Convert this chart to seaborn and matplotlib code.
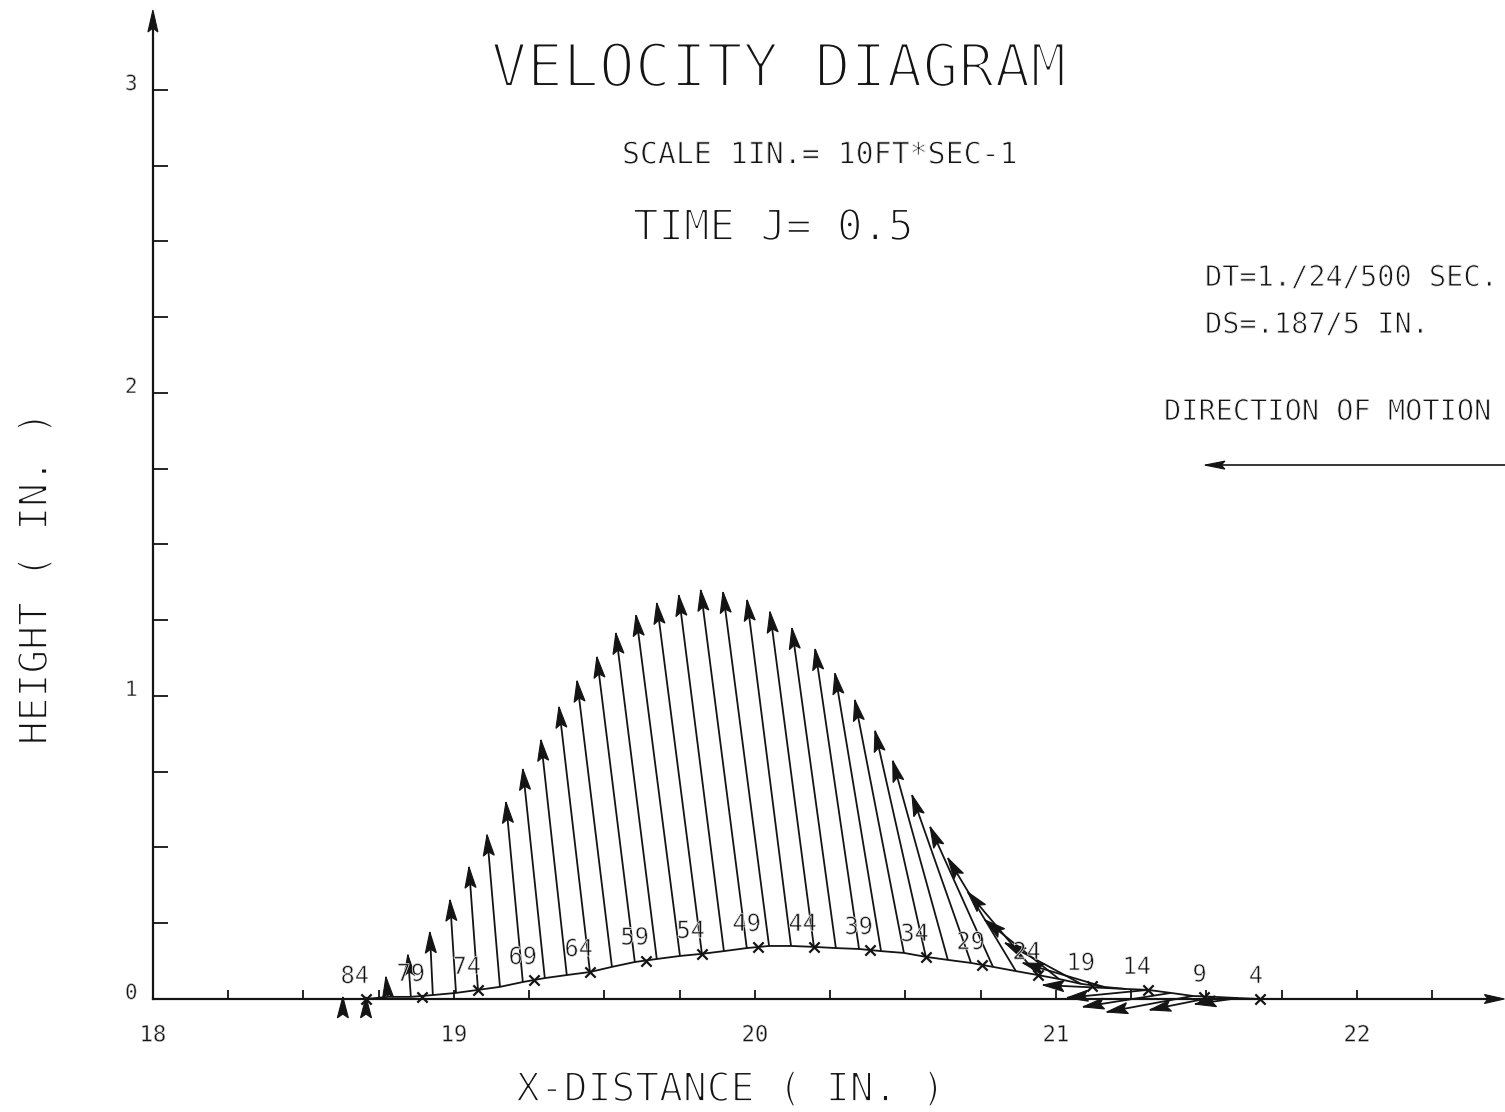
import numpy as np
import pandas as pd
import matplotlib
matplotlib.use("Agg")
import matplotlib.pyplot as plt
from matplotlib import patheffects as pe
from matplotlib.collections import LineCollection
from matplotlib.ticker import FixedLocator, FixedFormatter
import seaborn as sns

# ---------------------------------------------------------------------------
# Surface particles carrying a velocity vector (every second particle), in.
point_no = [86, 84, 82, 80, 78, 76, 74, 72, 70, 68,
            66, 64, 62, 60, 58, 56, 54, 52, 50, 48,
            46, 44, 42, 40, 38, 36, 34, 32, 30, 28,
            26, 24, 22, 20, 18, 16, 14, 12, 10, 8,
            6, 4, 2]
surf_x = [18.631, 18.708, 18.781, 18.857, 18.930, 19.007, 19.080, 19.153, 19.229, 19.302,
          19.375, 19.452, 19.525, 19.601, 19.674, 19.751, 19.824, 19.897, 19.973, 20.047,
          20.120, 20.196, 20.269, 20.346, 20.419, 20.495, 20.568, 20.641, 20.718, 20.791,
          20.867, 20.940, 21.010, 21.083, 21.159, 21.233, 21.306, 21.382, 21.455, 21.528,
          21.605, 21.678, 21.751]
surf_y = [0.000, 0.000, 0.007, 0.007, 0.013, 0.020, 0.030, 0.040, 0.056, 0.069,
          0.079, 0.089, 0.106, 0.122, 0.132, 0.142, 0.149, 0.158, 0.168, 0.175,
          0.175, 0.172, 0.168, 0.165, 0.158, 0.152, 0.139, 0.129, 0.119, 0.106,
          0.092, 0.079, 0.066, 0.050, 0.040, 0.033, 0.030, 0.020, 0.010, 0.007,
          0.003, 0.000, 0.000]
# particle velocity components, ft/sec
vel_u = [0.00, 0.00, -0.07, -0.10, -0.10, -0.20, -0.30, -0.43, -0.56, -0.73,
         -0.86, -1.03, -1.16, -1.26, -1.36, -1.46, -1.50, -1.50, -1.53, -1.53,
         -1.46, -1.46, -1.46, -1.46, -1.53, -1.63, -1.69, -1.83, -1.96, -2.09,
         -2.26, -2.33, -2.46, -2.52, -2.69, -2.76, -2.69, -2.92, -2.86, -2.16,
         -1.43, 0.00, 0.00]
vel_v = [0.07, 0.07, 0.66, 1.39, 2.08, 3.07, 4.06, 5.02, 5.94, 6.90,
         7.76, 8.75, 9.44, 10.07, 10.76, 11.25, 11.58, 11.75, 11.82, 11.68,
         11.42, 11.06, 10.56, 9.90, 9.17, 8.35, 7.46, 6.57, 5.54, 4.62,
         3.73, 2.74, 1.95, 1.35, 0.79, 0.13, -0.26, -0.46, -0.53, -0.43,
         -0.20, 0.00, 0.00]
VEL_SCALE = 10.0   # 1 in. of arrow = 10 ft/sec

# Numbered particles
label_no = [84, 79, 74, 69, 64, 59, 54, 49, 44, 39, 34, 29, 24, 19, 14, 9, 4]
label_x = [18.708, 18.894, 19.080, 19.266, 19.452, 19.638, 19.824, 20.010, 20.196,
           20.382, 20.568, 20.754, 20.940, 21.120, 21.306, 21.491, 21.678]
label_y = [0.000, 0.007, 0.030, 0.063, 0.089, 0.127, 0.149, 0.172, 0.172,
           0.162, 0.139, 0.112, 0.079, 0.043, 0.030, 0.005, 0.000]

# Axis ticks
x_major = [18, 19, 20, 21, 22]
x_major_labels = ["18", "19", "20", "21", "22"]
x_minor = [18.25, 18.5, 18.75, 19.25, 19.5, 19.75, 20.25, 20.5, 20.75,
           21.25, 21.5, 21.75, 22.25]
y_major = [0, 1, 2, 3]
y_major_labels = ["0", "1", "2", "3"]
y_minor = [0.25, 0.5, 0.75, 1.25, 1.5, 1.75, 2.25, 2.5, 2.75]

# ---------------------------------------------------------------------------
sns.set_theme(style="white")
INK = "#141414"
plt.rcParams["font.family"] = ["DejaVu Sans Mono", "DejaVu Sans"]


def thin(lw):
    """Pen-plotter look: redraw the glyph outline in white to slim the strokes."""
    return [pe.Normal(), pe.Stroke(linewidth=lw, foreground="white")]


fig = plt.figure(figsize=(15.05, 11.12), dpi=100)
ax = fig.add_axes([0, 0, 1, 1])
ax.set_facecolor("white")


def set_limits():
    ax.set_xlim(17.492, 22.492)
    ax.set_ylim(-0.373, 3.297)


set_limits()


def draw_head(x0, y0, x1, y1, length=21.0, half=5.5):
    """Filled arrowhead at (x1, y1), sized in pixels, pointing away from (x0, y0)."""
    set_limits()
    fwd = ax.transData
    inv = ax.transData.inverted()
    p0 = fwd.transform((x0, y0))
    p1 = fwd.transform((x1, y1))
    d = p1 - p0
    n = np.hypot(*d)
    if n == 0:
        return
    d = d / n
    perp = np.array([-d[1], d[0]])
    base = p1 - d * length
    notch = p1 - d * length * 0.82
    pts = np.array([p1, base + perp * half, notch, base - perp * half, p1])
    xy = inv.transform(pts)
    ax.fill(xy[:, 0], xy[:, 1], color=INK, lw=0.8, zorder=5, clip_on=False)


# wave surface and numbered particles
surface = pd.DataFrame({"x": surf_x, "y": surf_y})
sns.lineplot(data=surface, x="x", y="y", ax=ax, color=INK, lw=1.3,
             estimator=None, sort=True, zorder=4)
marks = pd.DataFrame({"x": label_x, "y": label_y})
sns.scatterplot(data=marks, x="x", y="y", ax=ax, marker="x", s=55,
                color=INK, linewidth=1.6, zorder=6)
set_limits()
for n, x, y in zip(label_no, label_x, label_y):
    ax.annotate(str(n), (x, y), xytext=(2.2, 16.5), textcoords="offset points",
                ha="right", va="center", fontsize=17, color=INK, zorder=7,
                path_effects=thin(0.5))

# velocity vectors
segs = []
for x, y, u, v in zip(surf_x, surf_y, vel_u, vel_v):
    if u == 0 and v == 0:
        continue
    tx, ty = x + u / VEL_SCALE, y + v / VEL_SCALE
    segs.append([(x, y), (tx, ty)])
    draw_head(x, y, tx, ty)
ax.add_collection(LineCollection(segs, colors=INK, linewidths=1.3, zorder=5))
set_limits()

# axes drawn as spines through the origin
for side in ["top", "right"]:
    ax.spines[side].set_visible(False)
ax.spines["left"].set_position(("data", 18))
ax.spines["bottom"].set_position(("data", 0))
ax.spines["left"].set_bounds(0, 3.22)
ax.spines["bottom"].set_bounds(18, 22.45)
for side in ["left", "bottom"]:
    ax.spines[side].set_color(INK)
    ax.spines[side].set_linewidth(1.6)
draw_head(18, 3.0, 18, 3.264, length=22, half=5)
draw_head(22.0, 0, 22.49, 0, length=20, half=4.5)

ax.xaxis.set_major_locator(FixedLocator(x_major))
ax.xaxis.set_major_formatter(FixedFormatter(x_major_labels))
ax.xaxis.set_minor_locator(FixedLocator(x_minor))
ax.yaxis.set_major_locator(FixedLocator(y_major))
ax.yaxis.set_major_formatter(FixedFormatter(y_major_labels))
ax.yaxis.set_minor_locator(FixedLocator(y_minor))
ax.tick_params(axis="x", which="both", direction="in", length=6.5, width=1.3,
               color=INK, labelcolor=INK, labelsize=16, pad=19)
ax.tick_params(axis="y", which="both", direction="in", length=10.5, width=1.3,
               color=INK, labelcolor=INK, labelsize=15, pad=11)
ax.tick_params(axis="both", which="both", bottom=True, left=True)
for lab in ax.get_yticklabels():
    lab.set_va("baseline")
for lab in ax.get_xticklabels() + ax.get_yticklabels():
    lab.set_path_effects(thin(0.4))
ax.set_xlabel("")
ax.set_ylabel("")

# direction of motion arrow
ax.plot([22.6, 21.50], [1.762, 1.762], color=INK, lw=1.2)
draw_head(22.6, 1.762, 21.495, 1.762, length=20, half=4)
set_limits()

# headings and notes
tx = dict(color=INK, transform=ax.transAxes)
ax.text(779 / 1505, 1 - 70 / 1112, "VELOCITY DIAGRAM", fontsize=43,
        ha="center", va="center", path_effects=thin(2.2), **tx)
ax.text(820 / 1505, 1 - 155 / 1112, "SCALE 1IN.= 10FT*SEC-1", fontsize=21.5,
        ha="center", va="center", path_effects=thin(0.7), **tx)
ax.text(633 / 1505, 1 - 228 / 1112, "TIME J= 0.5", fontsize=30.5,
        ha="left", va="center", path_effects=thin(1.4), **tx)
ax.text(1205 / 1505, 1 - 278 / 1112, "DT=1./24/500 SEC.", fontsize=20.6,
        ha="left", va="center", path_effects=thin(0.7), **tx)
ax.text(1205 / 1505, 1 - 325 / 1112, "DS=.187/5 IN.", fontsize=20.6,
        ha="left", va="center", path_effects=thin(0.7), **tx)
ax.text(1164 / 1505, 1 - 412 / 1112, "DIRECTION OF MOTION", fontsize=20.6,
        ha="left", va="center", path_effects=thin(0.7), **tx)
ax.text(731 / 1505, 1 - 1090 / 1112, "X-DISTANCE ( IN. )", fontsize=28.5,
        ha="center", va="center", path_effects=thin(1.3), **tx)
ax.text(36 / 1505, 1 - 578 / 1112, "HEIGHT ( IN. )", fontsize=28.5, rotation=90,
        ha="center", va="center", path_effects=thin(1.3), **tx)

fig.savefig("out.png", dpi=100, facecolor="white")
